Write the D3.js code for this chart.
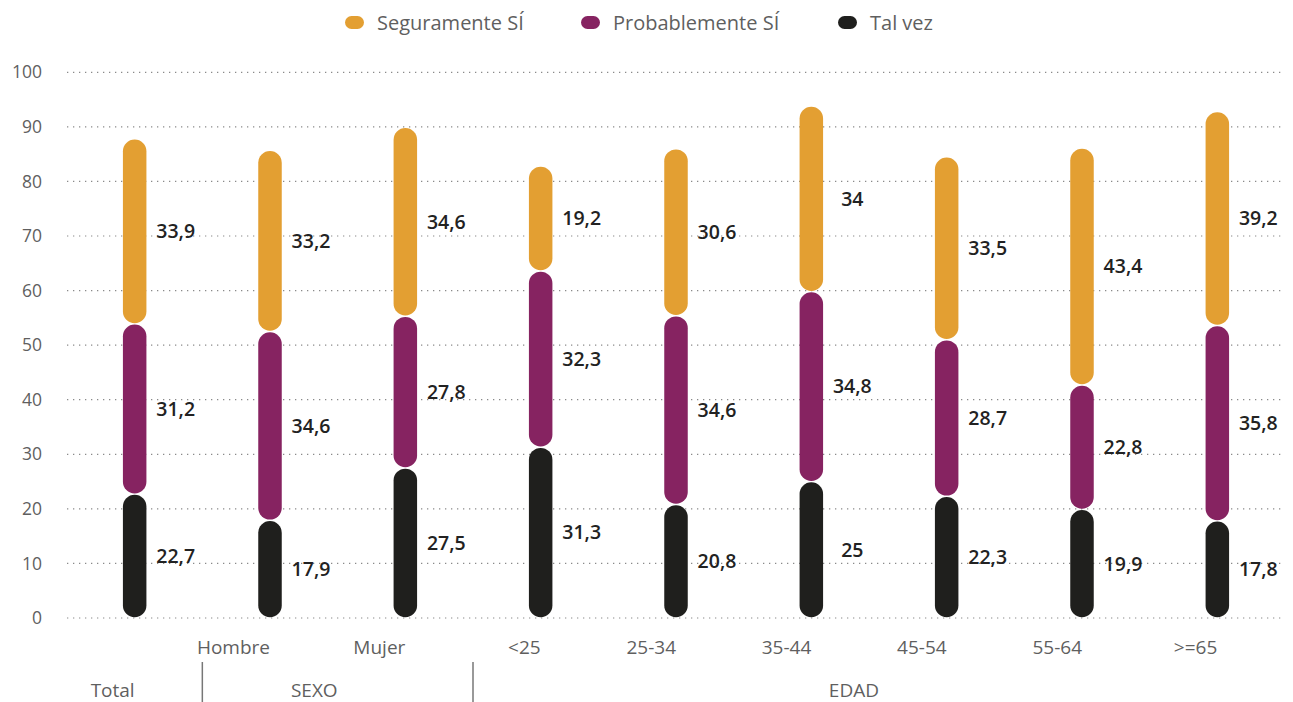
<!DOCTYPE html>
<html><head><meta charset="utf-8">
<script src="https://cdn.jsdelivr.net/npm/d3@7"></script>
<style>body{margin:0;background:#fff;} text{font-family:"Open Sans","Noto Sans",sans-serif;}</style>
</head><body>
<svg id="c" width="1293" height="702"></svg>
<script>
const categories = ["Total","Hombre","Mujer","<25","25-34","35-44","45-54","55-64",">=65"];
const tickLabels = ["","Hombre","Mujer","<25","25-34","35-44","45-54","55-64",">=65"];
const seriesNames = ["Tal vez","Probablemente SÍ","Seguramente SÍ"];
const talVez = [22.7,17.9,27.5,31.3,20.8,25,22.3,19.9,17.8];
const probablemente = [31.2,34.6,27.8,32.3,34.6,34.8,28.7,22.8,35.8];
const seguramente = [33.9,33.2,34.6,19.2,30.6,34,33.5,43.4,39.2];
const groups = [{name:"Total",members:["Total"]},{name:"SEXO",members:["Hombre","Mujer"]},{name:"EDAD",members:["<25","25-34","35-44","45-54","55-64",">=65"]}];
const yTicks = [0,10,20,30,40,50,60,70,80,90,100];
const colors = ["#1f1f1d","#862361","#e39f32"];

const svg = d3.select("#c");
const x = d3.scaleBand().domain(categories).range([67,1285]);
const y = d3.scaleLinear().domain([0,100]).range([618,72.3]);
const cx = c => x(c) + x.bandwidth()/2;

// grid
svg.append("g").selectAll("line").data(yTicks).join("line")
  .attr("x1",67).attr("x2",1285).attr("y1",d=>y(d)).attr("y2",d=>y(d))
  .attr("stroke","#8a8a8a").attr("stroke-width",1.2).attr("stroke-dasharray","1.3,4.7");
// y axis labels
svg.append("g").selectAll("text").data(yTicks).join("text")
  .attr("x",42).attr("y",d=>y(d)).attr("dy","0.35em").attr("text-anchor","end")
  .attr("font-size",17.5).attr("fill","#5f5f5f").text(d=>d);

// stacked data
const rows = categories.map((c,i)=>({cat:c, v:[talVez[i],probablemente[i],seguramente[i]]}));
const bw = 23.5;
rows.forEach(r=>{
  let base=0;
  r.v.forEach((val,k)=>{
    const y0=y(base), y1=y(base+val);
    svg.append("rect").attr("x",cx(r.cat)-bw/2).attr("width",bw)
      .attr("y",y1+0.7).attr("height",Math.max(0,y0-y1-1.4))
      .attr("rx",bw/2).attr("ry",bw/2).attr("fill",colors[k]);
    svg.append("text").attr("x",cx(r.cat)+41).attr("y",(y0+y1)/2).attr("dy","0.35em")
      .attr("text-anchor","middle").attr("font-size",19.5).attr("font-weight",600)
      .attr("fill","#222").text(String(val).replace(".",","));
    base+=val;
  });
});

// category labels
svg.append("g").selectAll("text").data(categories).join("text")
  .attr("x",d=>cx(d)).attr("y",647).attr("dy","0.35em").attr("text-anchor","end")
  .attr("font-size",19).attr("fill","#5f5f5f").text((d,i)=>tickLabels[i]);

// group labels
groups.forEach((g,i)=>{
  const xs = g.members.map(cx);
  svg.append("text").attr("x",(d3.min(xs)+d3.max(xs))/2).attr("y",690).attr("dy","0.35em")
    .attr("text-anchor","end").attr("font-size",19).attr("fill","#5f5f5f").text(g.name);
  if(i>0){
    const prev = groups[i-1].members;
    const sx = (cx(prev[prev.length-1]) + cx(g.members[0]))/2;
    svg.append("line").attr("x1",sx).attr("x2",sx).attr("y1",662).attr("y2",702)
      .attr("stroke","#777").attr("stroke-width",1.5);
  }
});

// legend
const legendItems = [{n:seriesNames[2],c:colors[2],x:345},{n:seriesNames[1],c:colors[1],x:581},{n:seriesNames[0],c:colors[0],x:838}];
legendItems.forEach(l=>{
  svg.append("rect").attr("x",l.x).attr("y",16).attr("width",19).attr("height",13).attr("rx",6.5).attr("fill",l.c);
  svg.append("text").attr("x",l.x+32).attr("y",23).attr("dy","0.35em").attr("font-size",20)
    .attr("fill","#5f5f5f").text(l.n);
});
</script>
</body></html>
